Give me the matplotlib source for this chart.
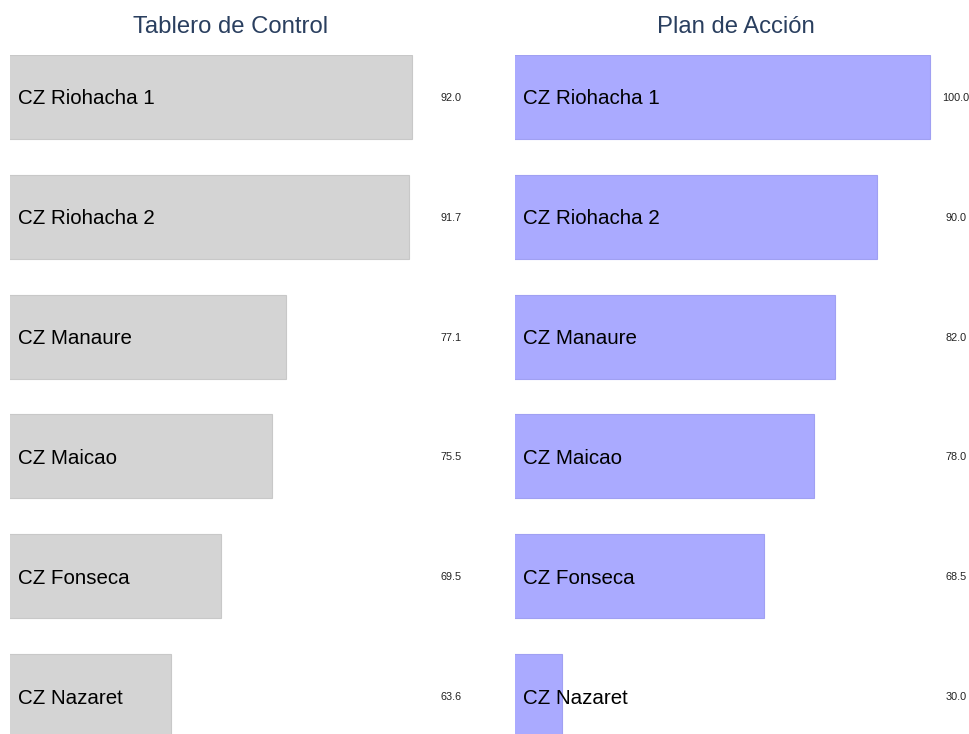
import matplotlib.pyplot as plt
from matplotlib.transforms import blended_transform_factory

plt.rcParams['font.family'] = ['Liberation Sans', 'DejaVu Sans']

# Data
zonas_tablero = ['CZ Riohacha 1', 'CZ Riohacha 2', 'CZ Manaure', 'CZ Maicao', 'CZ Fonseca', 'CZ Nazaret']
valores_tablero = [92.0, 91.7, 77.1, 75.5, 69.5, 63.6]

zonas_plan = ['CZ Riohacha 1', 'CZ Riohacha 2', 'CZ Manaure', 'CZ Maicao', 'CZ Fonseca', 'CZ Nazaret']
valores_plan = [100.0, 90.0, 82.0, 78.0, 68.5, 30.0]

W, H = 970, 734
fig = plt.figure(figsize=(W / 100, H / 100), dpi=100)


def panel(x0, x1, zonas, valores, upper, color, edge, title, title_x):
    # axes placed in pixel coordinates
    ax = fig.add_axes([x0 / W, -4 / H, (x1 - x0) / W, 683 / H])
    y = list(range(len(zonas)))
    ax.barh(y, valores, height=0.7, color=color, edgecolor=edge, linewidth=0.8)
    lo = min(valores) * 0.7
    ax.set_xlim(lo, upper)
    ax.set_ylim(len(zonas) - 0.65, -0.35)
    tr = blended_transform_factory(ax.transAxes, ax.transData)
    for yi, z, v in zip(y, zonas, valores):
        ax.text(8 / (x1 - x0), yi, z, transform=tr, ha='left', va='center_baseline',
                fontsize=14.8, color='black')
        ax.text(max(valores) * 1.05, yi, f'{v:.1f}', ha='center', va='center_baseline',
                fontsize=7.8, color='#222222')
    ax.axis('off')
    fig.text(title_x / W, 1 - 27 / H, title, ha='center', va='center',
             fontsize=17.2, color='#2a3f5f')
    return ax


panel(10, 466, zonas_tablero, valores_tablero, 98.4, '#d4d4d4', '#c8c8c8', 'Tablero de Control', 231)
panel(515, 955, zonas_plan, valores_plan, 104.8, '#aaaaff', '#a0a0f2', 'Plan de Acción', 736)

plt.savefig('out.png', dpi=100)
